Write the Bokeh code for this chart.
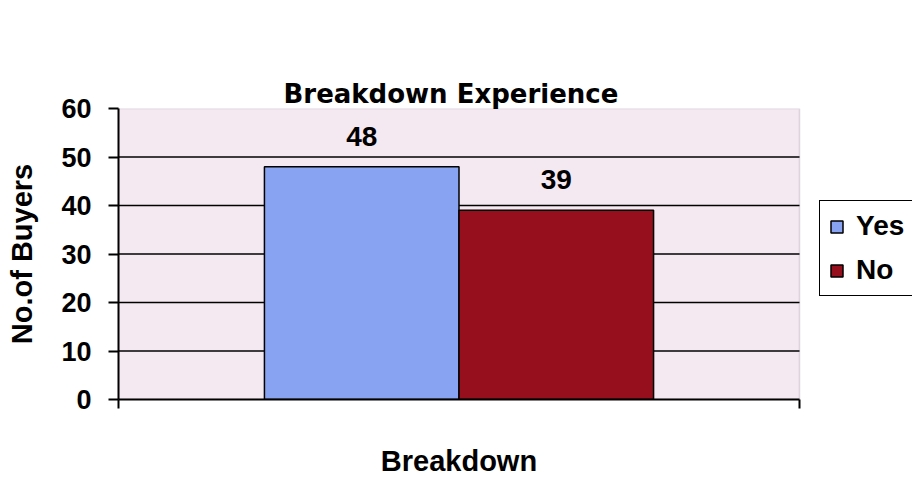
from bokeh.plotting import figure
from bokeh.models import (Range1d, FixedTicker, ColumnDataSource, LabelSet,
                          Legend, LegendItem, LinearAxis, BoxAnnotation)
from bokeh.core.properties import value
from bokeh.embed import file_html
from bokeh.resources import INLINE

# Data
categories = ["Breakdown"]
series = ["Yes", "No"]
yes_counts = [48]
no_counts = [39]
y_ticks = [0, 10, 20, 30, 40, 50, 60]

# Styling / layout
colors = ["#88a3f2", "#960f1d"]
plot_fill = "#f4e9f1"
plot_edge = "#9c8c9c"
gap_width = 1.5            # gap between category groups, relative to one bar
bar_w = 1.0 / (len(series) + gap_width)
label_font = "Liberation Sans"
PLOT_W = 681               # width of the shaded plot area, px
LEGEND_W = 113             # room to the right of the plot area, px

n_cat = len(categories)
centers = [k + 0.5 for k in range(n_cat)]
boundaries = list(range(n_cat + 1))

# The frame spans the plot area plus the legend strip on the right
p = figure(width=912, height=479,
           x_range=Range1d(0, n_cat * (PLOT_W + LEGEND_W) / PLOT_W),
           y_range=Range1d(y_ticks[0], y_ticks[-1]),
           output_backend="svg", toolbar_location=None,
           min_border_left=118, min_border_right=0,
           min_border_top=108, min_border_bottom=75)

xax = p.below[0]
yax = p.left[0]

p.background_fill_color = "white"
p.border_fill_color = "white"
p.outline_line_color = None
p.xgrid.visible = False
p.ygrid.visible = False

# Shaded plot area
p.add_layout(BoxAnnotation(left=boundaries[0], right=boundaries[-1],
                           fill_color=plot_fill, fill_alpha=1,
                           line_color=plot_edge, line_width=1.5,
                           level="image"))

# Horizontal gridlines across the plot area only
grid_src = ColumnDataSource(dict(y=y_ticks[1:-1]))
p.segment(x0=boundaries[0], x1=boundaries[-1], y0="y", y1="y",
          source=grid_src, line_color="black", line_width=1.5)

# Title, kept clear of the frame by an empty spacer axis
spacer = LinearAxis(ticker=FixedTicker(ticks=[]), axis_line_color=None,
                    major_tick_line_color=None, minor_tick_line_color=None,
                    major_tick_out=64, major_label_standoff=0)
p.add_layout(spacer, "above")

p.title.text = "Breakdown Experience"
p.title.align = "left"
p.title.offset = 165
p.title.standoff = 0
p.title.text_font = "DejaVu Sans"
p.title.text_font_size = "26px"
p.title.text_font_style = "bold"
p.title.text_color = "black"

# Value axis
yax.ticker = FixedTicker(ticks=y_ticks)
yax.major_tick_out = 10
yax.major_tick_in = 0
yax.minor_tick_line_color = None
yax.major_tick_line_color = "black"
yax.major_tick_line_width = 2
yax.axis_line_color = "black"
yax.axis_line_width = 2
yax.major_label_standoff = 17
yax.major_label_text_font = label_font
yax.major_label_text_font_size = "27px"
yax.major_label_text_font_style = "bold"
yax.major_label_text_color = "black"
yax.axis_label = "No.of Buyers"
yax.axis_label_text_font = label_font
yax.axis_label_text_font_size = "29px"
yax.axis_label_text_font_style = "bold"
yax.axis_label_text_color = "black"
yax.axis_label_standoff = 20

# Category axis: boundary tick marks, category name under each group
xax.bounds = (boundaries[0], boundaries[-1])
xax.ticker = FixedTicker(ticks=centers, minor_ticks=boundaries)
xax.major_label_overrides = {c: name for c, name in zip(centers, categories)}
xax.major_tick_out = 9
xax.major_tick_in = 0
xax.major_tick_line_color = None
xax.minor_tick_out = 9
xax.minor_tick_in = 0
xax.minor_tick_line_width = 2
xax.minor_tick_line_color = "black"
xax.axis_line_color = "black"
xax.axis_line_width = 2
xax.major_label_standoff = 36
xax.major_label_text_font = label_font
xax.major_label_text_font_size = "29px"
xax.major_label_text_font_style = "bold"
xax.major_label_text_color = "black"

# Bars and value labels
items = []
for i, (name, vals, col) in enumerate(zip(series, [yes_counts, no_counts], colors)):
    offset = (i - (len(series) - 1) / 2) * bar_w
    src = ColumnDataSource(dict(x=[c + offset for c in centers], top=vals,
                                label=[str(v) for v in vals]))
    r = p.vbar(x="x", top="top", width=bar_w, source=src, fill_color=col,
               line_color="black", line_width=1.5)
    p.add_layout(LabelSet(x="x", y="top", text="label", source=src,
                          y_offset=21, text_align="center",
                          text_baseline="alphabetic",
                          text_font=value(label_font), text_font_size="28px",
                          text_font_style="bold", text_color="black"))
    items.append(LegendItem(label=name, renderers=[r]))

legend = Legend(items=items, location=(PLOT_W + 20, 103),
                border_line_color="black", border_line_width=1.5,
                border_line_alpha=1.0,
                background_fill_color="white", background_fill_alpha=1,
                label_text_font=label_font, label_text_font_size="28px",
                label_text_font_style="bold", label_text_color="black",
                glyph_width=15, glyph_height=15, label_standoff=12,
                padding=9, spacing=12, margin=0)
p.add_layout(legend)

open("out.html", "w").write(file_html(p, INLINE))
